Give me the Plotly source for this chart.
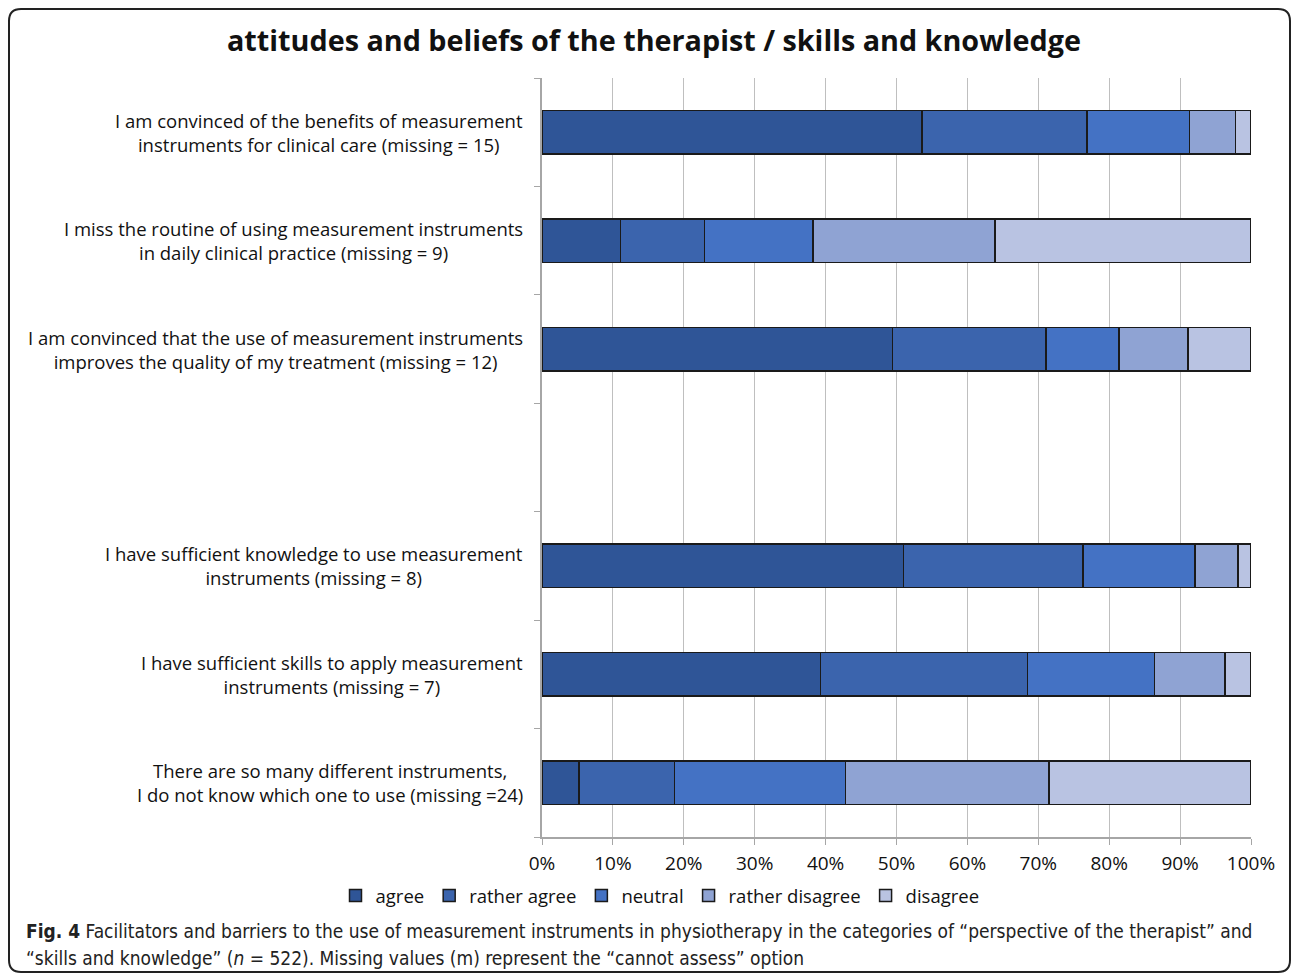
import plotly.graph_objects as go

# Survey items, top to bottom; an empty slot separates the two groups
items = [
    "I am convinced of the benefits of measurement<br>instruments for clinical care (missing = 15)",
    "I miss the routine of using measurement instruments<br>in daily clinical practice (missing = 9)",
    "I am convinced that the use of measurement instruments<br>improves the quality of my treatment (missing = 12)",
    "I have sufficient knowledge to use measurement<br>instruments (missing = 8)",
    "I have sufficient skills to apply measurement<br>instruments (missing = 7)",
    "There are so many different instruments,<br>I do not know which one to use (missing =24)",
]
slot_pos = [6.5, 5.5, 4.5, 2.5, 1.5, 0.5]

# Response shares in percent
agree = [53.6, 11.1, 49.4, 51.0, 39.3, 5.2]
rather_agree = [23.3, 11.8, 21.7, 25.3, 29.2, 13.5]
neutral = [14.4, 15.3, 10.3, 15.8, 17.9, 24.1]
rather_disagree = [6.5, 25.7, 9.7, 6.1, 9.9, 28.7]
disagree = [2.2, 36.1, 8.9, 1.8, 3.7, 28.5]

series = [
    ("agree", agree, "rgb(47,85,151)"),
    ("rather agree", rather_agree, "rgb(59,100,173)"),
    ("neutral", neutral, "rgb(68,114,196)"),
    ("rather disagree", rather_disagree, "rgb(143,163,211)"),
    ("disagree", disagree, "rgb(185,195,226)"),
]

x_ticks = list(range(0, 101, 10))
x_tick_labels = [f"{v}%" for v in x_ticks]

W, H = 1292, 977
L, R, T, B = 542, 1251, 78, 837
pw, ph = R - L, B - T


def px(xp):
    return (xp - L) / pw


def py(yp):
    return (B - yp) / ph


FONT = "Open Sans, Calibri, sans-serif"

fig = go.Figure()
for name, vals, color in series:
    fig.add_trace(go.Bar(
        y=slot_pos, x=vals, name=name, orientation="h", width=0.4,
        marker=dict(color=color, line=dict(color="#1a1a1a", width=1.5)),
        hoverinfo="x+name",
    ))

fig.update_layout(
    width=W, height=H,
    margin=dict(l=L, r=W - R, t=T, b=H - B),
    barmode="stack",
    plot_bgcolor="white", paper_bgcolor="white",
    font=dict(family=FONT, size=19, color="#111"),
    showlegend=True,
    legend=dict(
        orientation="h", x=px(660), xanchor="center", y=py(896), yanchor="middle",
        font=dict(size=18.5, color="#111"), itemwidth=30, traceorder="normal",
        tracegroupgap=0,
    ),
    bargap=0.6,
)

fig.update_xaxes(
    range=[0, 100], tickvals=x_ticks, ticktext=x_tick_labels,
    showgrid=True, gridcolor="#BFBFBF", gridwidth=1,
    showline=True, linecolor="#A6A6A6", linewidth=1.5,
    ticks="outside", ticklen=6, tickcolor="#A6A6A6",
    tickfont=dict(size=19, color="#111"), zeroline=False,
    ticklabelstandoff=2,
)
fig.update_yaxes(
    range=[0, 7], tickvals=list(range(8)), ticktext=[""] * 8,
    showgrid=False, showline=True, linecolor="#A6A6A6", linewidth=1.5,
    ticks="outside", ticklen=6, tickcolor="#A6A6A6", zeroline=False,
)

# Item labels, right-aligned against the axis with centred lines
for label, yv in zip(items, slot_pos):
    fig.add_annotation(
        x=px(525), y=yv, xref="paper", yref="y", text=label,
        showarrow=False, xanchor="right", yanchor="middle", align="center",
        font=dict(size=18.5, color="#111", family=FONT),
    )

# Title
fig.add_annotation(
    x=px(654), y=py(40), xref="paper", yref="paper",
    text="<b>attitudes and beliefs of the therapist / skills and knowledge</b>",
    showarrow=False, xanchor="center", yanchor="middle",
    font=dict(size=28.75, color="#111", family=FONT),
)

# Figure caption
CAP = "DejaVu Sans Condensed, Liberation Sans Narrow, Roboto Condensed, sans-serif"
fig.add_annotation(
    x=px(24), y=py(931), xref="paper", yref="paper",
    text="<b>Fig. 4</b> Facilitators and barriers to the use of measurement instruments in physiotherapy in the categories of \u201cperspective of the therapist\u201d and",
    showarrow=False, xanchor="left", yanchor="middle",
    font=dict(size=19, color="#222", family=CAP),
)
fig.add_annotation(
    x=px(24), y=py(958), xref="paper", yref="paper",
    text="\u201cskills and knowledge\u201d (<i>n</i> = 522). Missing values (m) represent the \u201ccannot assess\u201d option",
    showarrow=False, xanchor="left", yanchor="middle",
    font=dict(size=19, color="#222", family=CAP),
)

# Rounded outer frame
x0, x1, y0, y1 = px(9), px(1290), py(9), py(972)
rx, ry = 12 / pw, 12 / ph
frame = (
    f"M {x0} {y1 + ry} L {x0} {y0 - ry} Q {x0} {y0} {x0 + rx} {y0} "
    f"L {x1 - rx} {y0} Q {x1} {y0} {x1} {y0 - ry} L {x1} {y1 + ry} "
    f"Q {x1} {y1} {x1 - rx} {y1} L {x0 + rx} {y1} Q {x0} {y1} {x0} {y1 + ry} Z"
)
fig.add_shape(type="path", path=frame, xref="paper", yref="paper",
              line=dict(color="#222", width=2))

fig.write_html("out.html")
